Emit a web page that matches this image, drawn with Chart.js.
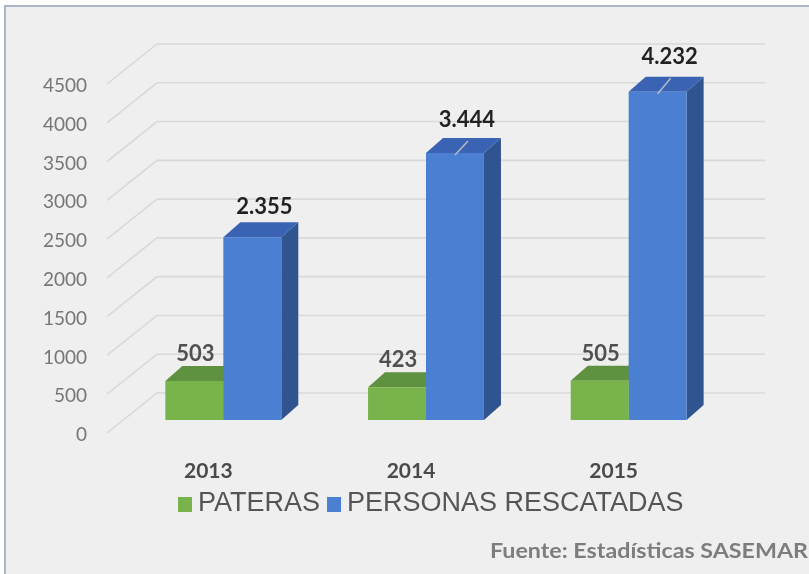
<!DOCTYPE html>
<html>
<head>
<meta charset="utf-8">
<script src="https://cdn.jsdelivr.net/npm/chart.js@4.4.1/dist/chart.umd.min.js"></script>
<style>
  html, body { margin: 0; padding: 0; background: #fff; }
  canvas { display: block; }
</style>
</head>
<body>
<canvas id="chart" width="809" height="574"></canvas>
<script>
// data
const years = ["2013", "2014", "2015"];
const pateras = [503, 423, 505];
const personas = [2355, 3444, 4232];
const valueLabels = [["503", "423", "505"], ["2.355", "3.444", "4.232"]];
const yTicks = [0, 500, 1000, 1500, 2000, 2500, 3000, 3500, 4000, 4500];
const legendNames = ["PATERAS", "PERSONAS RESCATADAS"];
const sourceText = "Fuente: Estadísticas SASEMAR";

// look
const frontColors = ["#78b34b", "#4b7fd1"];
const topColors = ["#5e9140", "#3a63b3"];
const sideColors = ["#4f7c35", "#2f5490"];
const depth = { dx: 17, dy: -15 };      // bar depth
const floorFront = { dx: -15, dy: 13 }; // front edge of the floor
const floorBack = { dx: 35, dy: -27 };  // back wall
const labelShift = [1, 12];
const leaderLines = [false, true, true];

// 3D faces + grid, drawn before the bar fronts
const back3d = {
    id: "back3d",
    beforeDraw(chart) {
        const ctx = chart.ctx;
        ctx.save();
        ctx.fillStyle = "#ffffff";
        ctx.fillRect(0, 0, chart.width, chart.height);
        ctx.fillStyle = "#efefef";
        ctx.fillRect(5, 6, chart.width, chart.height);
        ctx.strokeStyle = "#a9b6c8";
        ctx.lineWidth = 2;
        ctx.beginPath();
        ctx.moveTo(5, chart.height);
        ctx.lineTo(5, 6);
        ctx.lineTo(chart.width, 6);
        ctx.stroke();
        ctx.restore();
    },
    beforeDatasetsDraw(chart) {
        const ctx = chart.ctx;
        const y = chart.scales.y;
        const area = chart.chartArea;
        ctx.save();
        // grid
        ctx.strokeStyle = "#d9d9d9";
        ctx.lineWidth = 1.6;
        yTicks.forEach(v => {
            const py = y.getPixelForValue(v);
            ctx.beginPath();
            ctx.moveTo(area.left + floorFront.dx, py + floorFront.dy);
            ctx.lineTo(area.left + floorBack.dx, py + floorBack.dy);
            ctx.lineTo(area.right + floorBack.dx, py + floorBack.dy);
            ctx.stroke();
        });
        // tick labels on the front edge
        ctx.fillStyle = "#767676";
        ctx.font = "19px Lato";
        ctx.textAlign = "right";
        ctx.textBaseline = "middle";
        yTicks.forEach(v => {
            ctx.fillText(String(v), 87, y.getPixelForValue(v) + 15);
        });
        // tops and sides of the bars
        chart.data.datasets.forEach((ds, di) => {
            chart.getDatasetMeta(di).data.forEach(bar => {
                const l = bar.x - bar.width / 2, r = bar.x + bar.width / 2;
                const t = bar.y, b = bar.base;
                ctx.fillStyle = sideColors[di];
                ctx.beginPath();
                ctx.moveTo(r, t);
                ctx.lineTo(r + depth.dx, t + depth.dy);
                ctx.lineTo(r + depth.dx, b + depth.dy);
                ctx.lineTo(r, b);
                ctx.closePath();
                ctx.fill();
                ctx.fillStyle = topColors[di];
                ctx.beginPath();
                ctx.moveTo(l, t);
                ctx.lineTo(l + depth.dx, t + depth.dy);
                ctx.lineTo(r + depth.dx, t + depth.dy);
                ctx.lineTo(r, t);
                ctx.closePath();
                ctx.fill();
            });
        });
        ctx.restore();
    },
    afterDraw(chart) {
        const ctx = chart.ctx;
        ctx.save();
        // value labels
        chart.data.datasets.forEach((ds, di) => {
            chart.getDatasetMeta(di).data.forEach((bar, i) => {
                const v = ds.data[i];
                const lx = bar.x + labelShift[di];
                const ly = bar.y - (26 + v / 500);
                if (leaderLines[i] && di === 1) {
                    ctx.strokeStyle = "#b4bccb";
                    ctx.lineWidth = 1.5;
                    ctx.beginPath();
                    ctx.moveTo(bar.x, bar.y + 2);
                    ctx.lineTo(lx + 1, ly + 21);
                    ctx.stroke();
                }
                ctx.fillStyle = di === 1 ? "#222222" : "#505050";
                ctx.font = "bold 22px Lato";
                ctx.textAlign = "center";
                ctx.textBaseline = "middle";
                ctx.fillText(valueLabels[di][i], lx, ly);
            });
        });
        // year labels
        const x = chart.scales.x;
        ctx.fillStyle = "#4a4a4a";
        ctx.font = "bold 21px Lato";
        ctx.textAlign = "center";
        ctx.textBaseline = "middle";
        years.forEach((yr, i) => {
            ctx.fillText(yr, x.getPixelForValue(i) + floorFront.dx, 471);
        });
        // legend
        ctx.font = "27px 'Liberation Sans'";
        ctx.textAlign = "left";
        let lx = 178;
        legendNames.forEach((name, i) => {
            ctx.fillStyle = frontColors[i];
            ctx.fillRect(lx, 497, 14, 15);
            ctx.fillStyle = "#555555";
            ctx.fillText(name, lx + 20, 504);
            lx += 20 + ctx.measureText(name).width + 7;
        });
        // source
        ctx.font = "bold 20px Lato";
        const w = ctx.measureText(sourceText).width;
        ctx.translate(490, 552);
        ctx.scale(318 / w, 1);
        ctx.fillStyle = "#7d7d7d";
        ctx.fillText(sourceText, 0, 0);
        ctx.restore();
    }
};

new Chart(document.getElementById("chart"), {
    type: "bar",
    data: {
        labels: years,
        datasets: [
            { label: legendNames[0], data: pateras, backgroundColor: frontColors[0] },
            { label: legendNames[1], data: personas, backgroundColor: frontColors[1] }
        ]
    },
    options: {
        responsive: false,
        animation: false,
        devicePixelRatio: 1,
        layout: { padding: { left: 122, right: 79, top: 71, bottom: 154 } },
        datasets: { bar: { categoryPercentage: 0.572, barPercentage: 1 } },
        scales: {
            x: { display: false },
            y: { display: false, min: 0, max: 4500 }
        },
        plugins: { legend: { display: false }, tooltip: { enabled: false } }
    },
    plugins: [back3d]
});
</script>
</body>
</html>
